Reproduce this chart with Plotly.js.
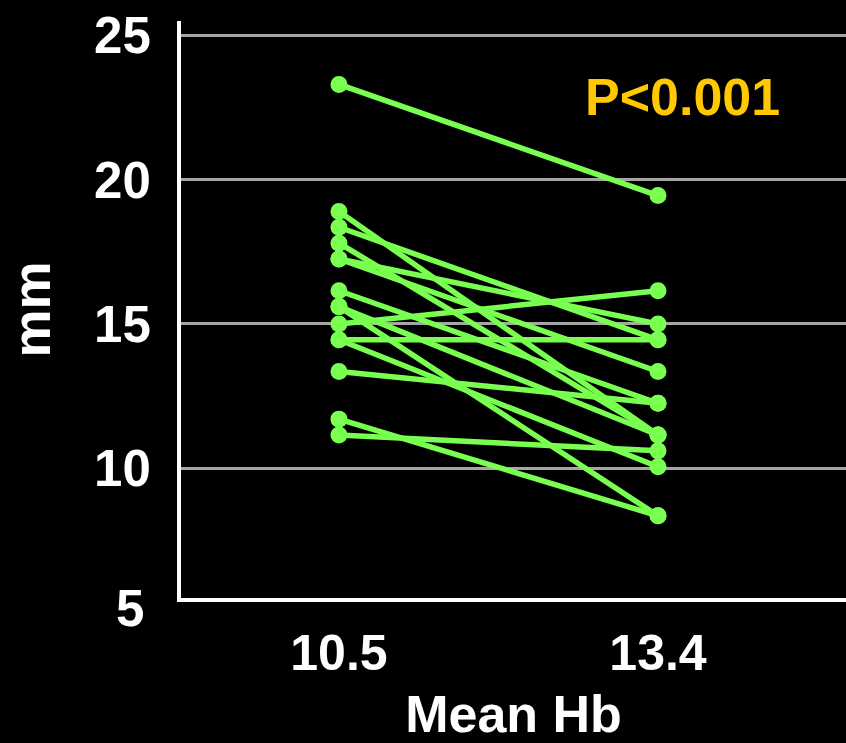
<!DOCTYPE html>
<html>
<head>
<meta charset="utf-8">
<script src="https://cdn.plot.ly/plotly-3.0.1.min.js"></script>
<style>html,body{margin:0;padding:0;background:#000;}#chart{width:846px;height:743px;}</style>
</head>
<body>
<div id="chart"></div>
<script>
// Mean Hb levels (x categories)
const hbLevels = [10.5, 13.4];
const hbLabels = ["10.5", "13.4"];
// Per-subject values (mm) at each Hb level
const mmBefore = [23.3, 18.9, 18.35, 17.8, 17.25, 17.25, 16.15, 15.6, 15.6, 15.0, 14.45, 14.45, 13.35, 11.7, 11.15];
const mmAfter  = [19.45, 11.15, 14.45, 11.15, 15.0, 13.35, 12.25, 8.35, 11.15, 16.15, 14.45, 10.05, 12.25, 8.35, 10.6];
const yTicks = [10, 15, 20, 25];
const yTickText = ["10", "15", "20", "25"];
const yMinLabel = "5";
const pText = "P<0.001";

const green = '#78FF50';
const font = 'Liberation Sans, Arial, sans-serif';
const yRange = [5.5, 25.5];

const traces = mmBefore.map((b, i) => ({
  type: 'scatter',
  mode: 'lines+markers',
  x: hbLevels,
  y: [b, mmAfter[i]],
  line: {color: green, width: 5.5},
  marker: {color: green, size: 17},
  showlegend: false,
  cliponaxis: false,
  hoverinfo: 'skip'
}));

const layout = {
  width: 846, height: 743,
  paper_bgcolor: '#000', plot_bgcolor: '#000',
  margin: {l: 181, r: 0, t: 21, b: 145},
  showlegend: false,
  xaxis: {
    range: [9.064, 15.109],
    tickvals: hbLevels, ticktext: hbLabels,
    showgrid: false, zeroline: false,
    showline: true, linecolor: '#fff', linewidth: 4,
    ticks: 'outside', ticklen: 8, tickcolor: 'rgba(0,0,0,0)',
    tickfont: {family: font, size: 50, color: '#fff', weight: 'bold'},
    title: {text: 'Mean Hb', font: {family: font, size: 52, color: '#fff', weight: 'bold'}, standoff: 20},
    automargin: false, fixedrange: true
  },
  yaxis: {
    range: yRange,
    tickvals: yTicks, ticktext: yTickText,
    showgrid: true, gridcolor: '#A6A6A6', gridwidth: 3,
    zeroline: false,
    showline: true, linecolor: '#fff', linewidth: 4,
    ticks: 'outside', ticklen: 16, tickcolor: 'rgba(0,0,0,0)',
    tickfont: {family: font, size: 51, color: '#fff', weight: 'bold'},
    title: {text: 'mm', font: {family: font, size: 54, color: '#fff', weight: 'bold'}, standoff: 27},
    automargin: false, fixedrange: true
  },
  annotations: [
    {text: yMinLabel, xref: 'paper', yref: 'paper', x: 0, y: (5 - yRange[0]) / (yRange[1] - yRange[0]),
     xanchor: 'right', yanchor: 'middle', xshift: -35, yshift: 4, showarrow: false,
     font: {family: font, size: 51, color: '#fff', weight: 'bold'}},
    {text: pText, xref: 'x', yref: 'y', x: 13.62, y: 22.85, xanchor: 'center', yanchor: 'middle',
     showarrow: false, font: {family: font, size: 52, color: '#FFC800', weight: 'bold'}}
  ]
};

Plotly.newPlot('chart', traces, layout, {displayModeBar: false, staticPlot: true});
</script>
</body>
</html>
